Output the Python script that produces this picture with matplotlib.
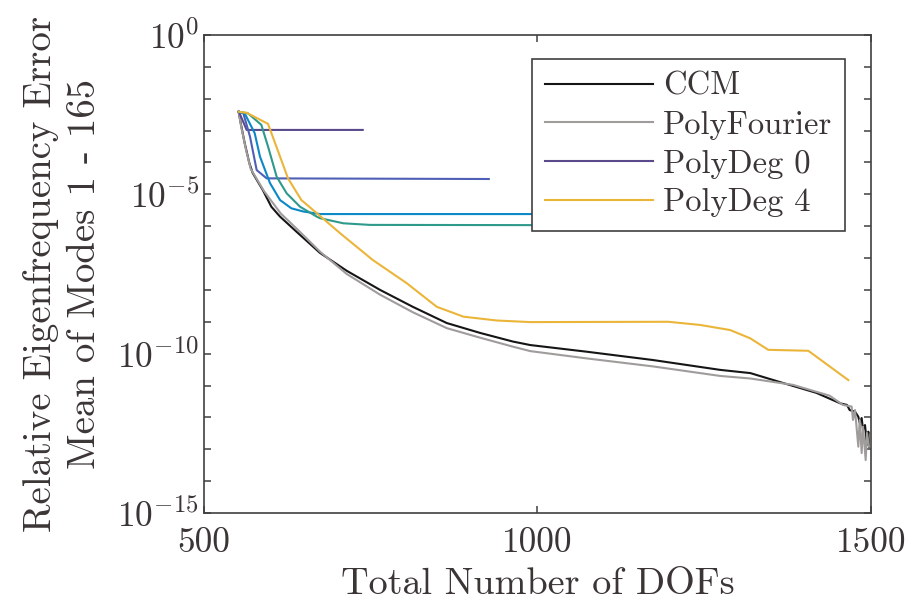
import numpy as np
import matplotlib
matplotlib.use("Agg")
from matplotlib import pyplot as plt
from matplotlib.ticker import FixedLocator, NullFormatter, FuncFormatter

plt.rcParams['font.family'] = 'cmr10'
plt.rcParams['mathtext.fontset'] = 'cm'
plt.rcParams['axes.unicode_minus'] = False
plt.rcParams['axes.formatter.use_mathtext'] = True

# data: x = total DOFs, y stored as log10 of the error
ccm_x = [552, 555, 561, 568, 573, 588, 601, 614, 639, 674, 714, 764, 813, 864,
         914, 963, 989, 1074, 1173, 1274, 1319, 1368, 1418, 1454, 1464, 1468,
         1476, 1481, 1483, 1486, 1488, 1491, 1494, 1496, 1497]
ccm_y = [-2.41, -2.76, -3.39, -4.02, -4.33, -4.86, -5.39, -5.70, -6.18, -6.84,
         -7.40, -8.00, -8.53, -9.04, -9.35, -9.62, -9.73, -9.94, -10.20, -10.51,
         -10.61, -10.92, -11.23, -11.56, -11.61, -11.77, -11.82, -11.98, -12.17,
         -12.02, -12.39, -12.24, -12.86, -12.45, -12.93]

pf_x = [552, 556, 563, 570, 590, 615, 640, 674, 714, 764, 813, 864, 914, 963,
        989, 1074, 1173, 1274, 1319, 1383, 1438, 1458, 1471, 1473, 1476, 1481,
        1483, 1486, 1488, 1492, 1494, 1497]
pf_y = [-2.41, -2.90, -3.60, -4.20, -4.90, -5.60, -6.10, -6.80, -7.50, -8.15,
        -8.70, -9.20, -9.50, -9.78, -9.92, -10.15, -10.40, -10.70, -10.78,
        -10.98, -11.32, -11.61, -11.66, -12.08, -11.77, -12.92, -12.08, -13.12,
        -12.29, -13.34, -12.49, -12.92]

deg0_x = [552, 553, 564, 738]
deg0_y = [-2.41, -2.44, -2.98, -2.98]

deg1_x = [552, 559, 569, 579, 594, 927]
deg1_y = [-2.41, -2.46, -3.19, -4.24, -4.50, -4.52]

deg2_x = [552, 561, 576, 584, 599, 614, 631, 649, 674, 1100]
deg2_y = [-2.41, -2.46, -3.08, -3.82, -4.65, -5.18, -5.44, -5.54, -5.62, -5.62]

deg3_x = [552, 566, 586, 596, 609, 624, 644, 669, 674, 709, 749, 1100]
deg3_y = [-2.41, -2.46, -2.82, -3.50, -4.45, -4.97, -5.39, -5.70, -5.75, -5.91,
          -5.96, -5.97]

deg4_x = [552, 564, 596, 626, 646, 669, 704, 753, 804, 849, 889, 939, 989,
          1196, 1244, 1289, 1319, 1346, 1406, 1466]
deg4_y = [-2.41, -2.44, -2.79, -4.50, -5.18, -5.59, -6.22, -7.06, -7.79, -8.53,
          -8.84, -8.96, -9.01, -9.00, -9.10, -9.26, -9.52, -9.88, -9.91, -10.83]

txt = '#3b3535'

fig = plt.figure(figsize=(9.09, 6.06), dpi=100)
ax = fig.add_axes([0.2244, 0.1535, 0.7338, 0.7888])

l_ccm, = ax.plot(ccm_x, 10.0 ** np.array(ccm_y), color='#151515', lw=1.5)
l_pf, = ax.plot(pf_x, 10.0 ** np.array(pf_y), color='#a19c9c', lw=1.5)
l_d0, = ax.plot(deg0_x, 10.0 ** np.array(deg0_y), color='#5a4a8c', lw=1.5)
ax.plot(deg1_x, 10.0 ** np.array(deg1_y), color='#4e5fb5', lw=1.5)
ax.plot(deg2_x, 10.0 ** np.array(deg2_y), color='#0b88c8', lw=1.5)
ax.plot(deg3_x, 10.0 ** np.array(deg3_y), color='#2e9a8c', lw=1.5)
l_d4, = ax.plot(deg4_x, 10.0 ** np.array(deg4_y), color='#ebb53a', lw=1.5)

ax.set_yscale('log')
ax.set_xlim(500, 1500)
ax.set_ylim(1e-15, 1e0)

ax.xaxis.set_major_locator(FixedLocator([500, 1000, 1500]))
ax.yaxis.set_major_locator(FixedLocator([1e-15, 1e-10, 1e-5, 1e0]))
ax.yaxis.set_minor_locator(FixedLocator([10.0 ** k for k in range(-15, 1)]))
ax.yaxis.set_minor_formatter(NullFormatter())
ax.yaxis.set_major_formatter(FuncFormatter(
    lambda v, p: r'$10^{%d}$' % int(round(np.log10(v)))))
ax.xaxis.set_major_formatter(FuncFormatter(lambda v, p: '%d' % v))

ax.tick_params(which='both', direction='in', top=True, right=True,
               length=5, width=1.1, color='#404040', labelcolor=txt,
               labelsize=25.5)
ax.tick_params(axis='x', pad=10)
for s in ax.spines.values():
    s.set_color('#404040')
    s.set_linewidth(1.2)

ax.set_xlabel('Total Number of DOFs', fontsize=27.5, color=txt, labelpad=7)
ax.set_ylabel('Relative Eigenfrequency Error\nMean of Modes 1 - 165',
              fontsize=28, color=txt, labelpad=10, linespacing=1.3)

leg = ax.legend([l_ccm, l_pf, l_d0, l_d4],
                ['CCM', 'PolyFourier', 'PolyDeg 0', 'PolyDeg 4'],
                loc='upper right', bbox_to_anchor=(0.961, 0.950),
                borderaxespad=0, fontsize=23.5, frameon=True, fancybox=False,
                edgecolor='#404040', handlelength=3.3, handletextpad=0.3,
                labelspacing=0.3, borderpad=0.4, framealpha=1)
leg.get_frame().set_linewidth(1.2)
for t in leg.get_texts():
    t.set_color(txt)

fig.savefig('out.png', dpi=100)
